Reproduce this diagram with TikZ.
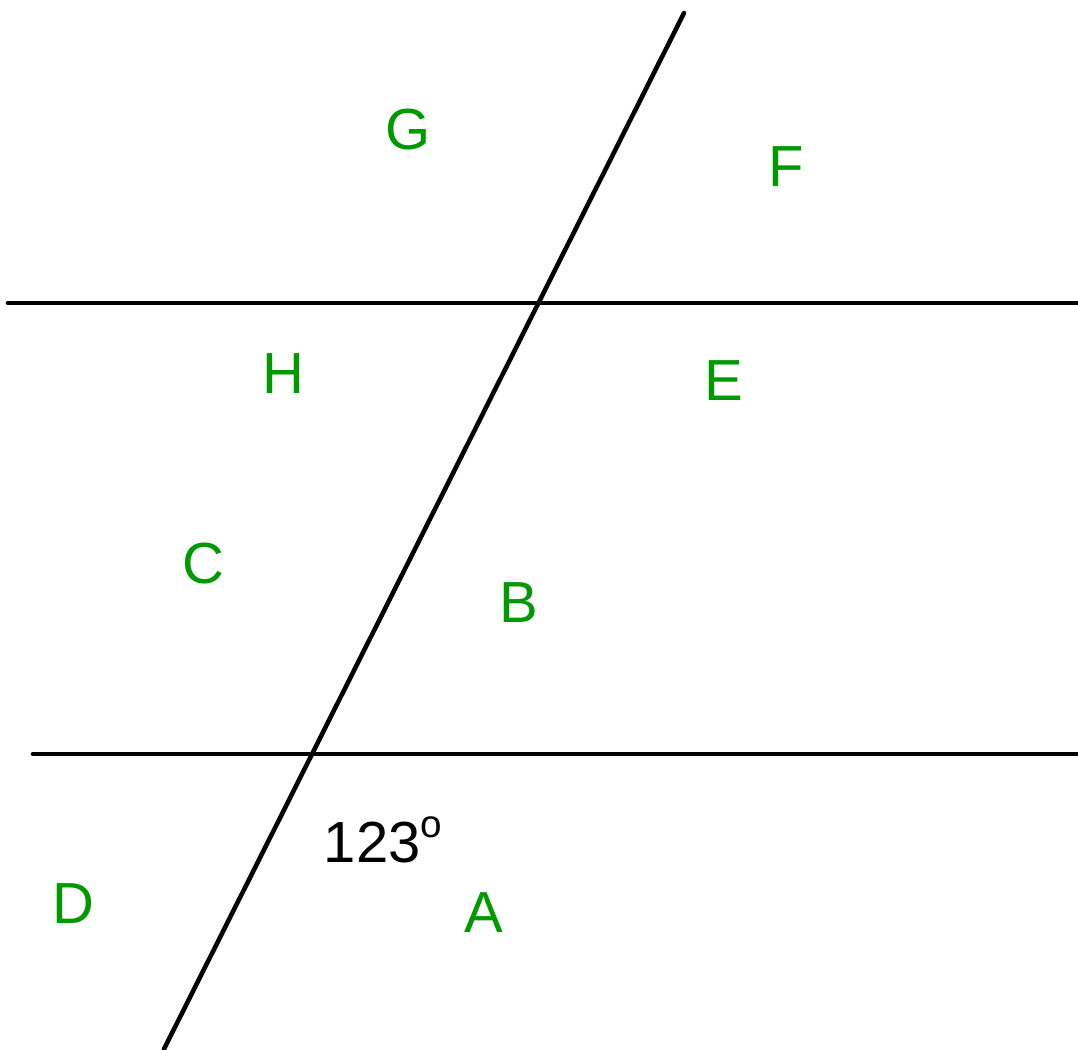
\documentclass[tikz,border=0pt]{standalone}
\usepackage{fontspec}
\setmainfont{Liberation Sans}
\definecolor{label-green}{RGB}{0, 153, 0}

\begin{document}
\begin{tikzpicture}[x=0.02cm, y=-0.02cm,
  line/.style={line width=2.6pt, line cap=round},
  region/.style={text=label-green, font=\fontsize{33}{40}\selectfont, inner sep=0pt}]
\useasboundingbox (0,0) rectangle (1078,1049);

\coordinate (top-l) at (8,303);
\coordinate (top-r) at (1078,303);
\coordinate (bot-l) at (33,754);
\coordinate (bot-r) at (1078,754);
\coordinate (tr-top) at (684,13);
\coordinate (tr-bot) at (164,1049);

\draw[line] (top-l) -- (top-r);
\draw[line] (bot-l) -- (bot-r);
\draw[line] (tr-top) -- (tr-bot);

\node (G) [region] at (408,130) {G};
\node (F) [region] at (786,167) {F};
\node (H) [region] at (283,374) {H};
\node (E) [region] at (724,381) {E};
\node (C) [region] at (203,564) {C};
\node (B) [region] at (519,603) {B};
\node (D) [region] at (73,904) {D};
\node (A) [region] at (484,913) {A};
\node (angle) [inner sep=0pt, font=\fontsize{33}{40}\selectfont] at (383,840)
  {123\raisebox{0.42em}{\fontsize{22}{26}\selectfont o}};
\end{tikzpicture}
\end{document}
